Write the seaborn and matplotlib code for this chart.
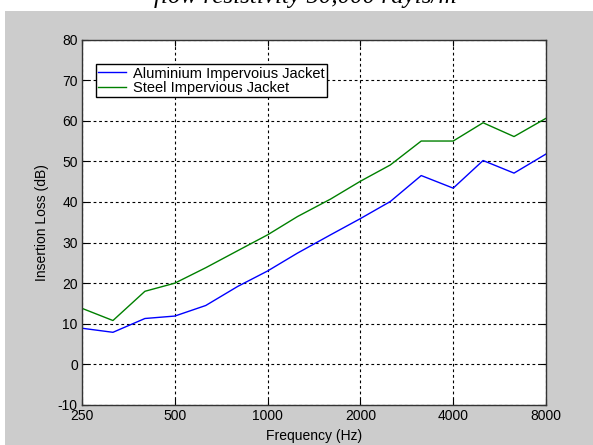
import matplotlib
matplotlib.use("Agg")
import matplotlib.pyplot as plt
import seaborn as sns
import pandas as pd
from matplotlib.patches import Rectangle

freqs = [250, 315, 400, 500, 630, 800, 1000, 1250, 1600, 2000, 2500, 3150, 4000, 5000, 6300, 8000]
aluminium = [8.9, 7.9, 11.3, 11.9, 14.5, 19.2, 23.0, 27.4, 31.9, 35.9, 40.1, 46.5, 43.4, 50.2, 47.1, 51.8]
steel = [13.8, 10.8, 18.0, 20.0, 23.8, 28.0, 31.9, 36.4, 40.7, 45.1, 49.1, 55.0, 55.0, 59.5, 56.1, 60.6]
series_names = ["Aluminium Impervoius Jacket", "Steel Impervious Jacket"]
x_ticks = [250, 500, 1000, 2000, 4000, 8000]
y_ticks = list(range(-10, 90, 10))

df = pd.concat([
    pd.DataFrame({"freq": freqs, "loss": aluminium, "series": series_names[0]}),
    pd.DataFrame({"freq": freqs, "loss": steel, "series": series_names[1]}),
])

plt.rcParams["font.family"] = ["Liberation Sans", "DejaVu Sans"]

fig = plt.figure(figsize=(5.93, 4.45), dpi=100, facecolor="white")
fig.patches.append(Rectangle((5 / 593, 0), 1, 1 - 11 / 445, transform=fig.transFigure,
                             facecolor="#cccccc", edgecolor="none", zorder=-10))
ax = fig.add_axes([82 / 593, 40 / 445, 464 / 593, 365.5 / 445])
ax.set_facecolor("white")

sns.lineplot(data=df, x="freq", y="loss", hue="series",
             palette={series_names[0]: "#0000ff", series_names[1]: "#008000"},
             linewidth=1.0, ax=ax, legend=True)

ax.set_xscale("log")
ax.set_xlim(250, 8000)
ax.set_ylim(-10, 80)
ax.set_xticks(x_ticks)
ax.set_xticklabels([str(t) for t in x_ticks])
ax.xaxis.set_minor_locator(matplotlib.ticker.NullLocator())
ax.set_yticks(y_ticks)
ax.set_yticklabels([str(t) for t in y_ticks])
ax.tick_params(direction="in", top=True, right=True, length=4, width=0.8,
               labelsize=10, colors="black", pad=3)
ax.grid(True, color="black", linestyle=(0, (2.5, 2.5)), linewidth=0.8)
for s in ax.spines.values():
    s.set_color("#333333")
    s.set_linewidth(1.0)

ax.set_xlabel("Frequency (Hz)", fontsize=10, labelpad=4)
ax.set_ylabel("Insertion Loss (dB)", fontsize=10, labelpad=6)

handles, labels = ax.get_legend_handles_labels()
leg = ax.legend(handles, labels, loc="upper left", bbox_to_anchor=(0.03, 0.932),
                fontsize=10.5, frameon=True, fancybox=False, framealpha=1,
                edgecolor="black", handlelength=1.9, handletextpad=0.5,
                borderpad=0.15, labelspacing=0.05, borderaxespad=0)
leg.get_frame().set_linewidth(1.0)

fig.text(305 / 593, 1 - 3.5 / 445, "flow resistivity 50,000 rayls/m", ha="center",
         va="baseline", fontsize=18, family=["Liberation Serif", "DejaVu Serif"], style="italic")

fig.savefig("out.png", dpi=100, facecolor=fig.get_facecolor())
